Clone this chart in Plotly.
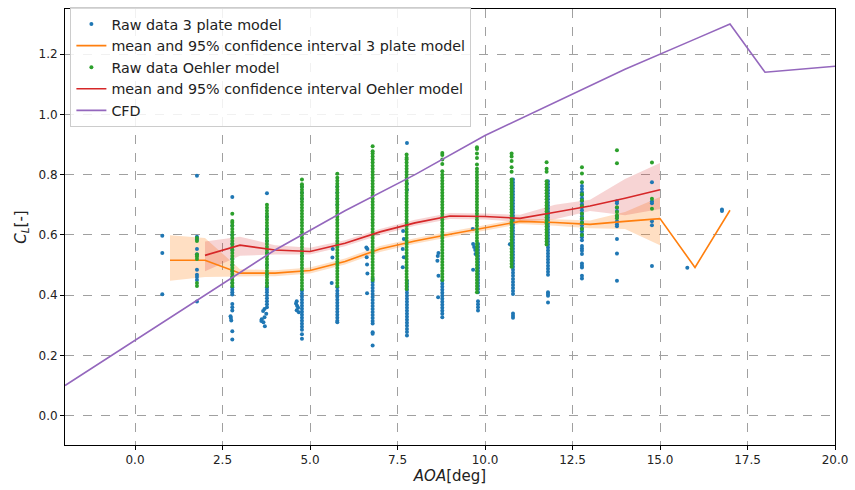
import plotly.graph_objects as go

# ---------------- raw data: 3 plate model (one list of CL values per AOA column) ----------------
plate3_aoa = [0.78, 1.77, 2.78, 3.77, 4.77, 5.78, 6.79, 7.77, 8.78, 9.80, 10.80, 11.80,
              12.77, 13.77, 14.77, 15.78, 16.77]
plate3_cl = [
    [0.597, 0.540, 0.403],
    [0.796, 0.594, 0.585, 0.553, 0.536, 0.484, 0.468, 0.460, 0.450, 0.379],
    [0.726, 0.63, 0.60, 0.57, 0.55, 0.52, 0.50, 0.48, 0.46, 0.44, 0.426, 0.418, 0.41, 0.402,
     0.371, 0.36, 0.349, 0.28, 0.253],
    [0.738, 0.66, 0.62, 0.58, 0.54, 0.50, 0.47, 0.44, 0.426, 0.418, 0.41, 0.40, 0.39, 0.38,
     0.37, 0.36],
    [0.76, 0.74, 0.72, 0.53, 0.415, 0.405, 0.395, 0.385, 0.375, 0.365, 0.355, 0.345, 0.335,
     0.325, 0.315, 0.305, 0.295, 0.285, 0.27, 0.255],
    [0.76, 0.74, 0.72, 0.70, 0.426, 0.415, 0.405, 0.395, 0.385, 0.375, 0.365, 0.355, 0.345,
     0.335, 0.325, 0.315, 0.31],
    [0.454, 0.444, 0.434, 0.424, 0.414, 0.404, 0.394, 0.384, 0.374, 0.364, 0.354, 0.344,
     0.334, 0.324, 0.314, 0.306, 0.277, 0.272, 0.233],
    [0.905, 0.77, 0.75, 0.448, 0.438, 0.428, 0.418, 0.408, 0.398, 0.388, 0.378, 0.368, 0.358,
     0.348, 0.338, 0.328, 0.318, 0.308, 0.298, 0.288, 0.278, 0.266],
    [0.448, 0.438, 0.428, 0.418, 0.408, 0.398, 0.388, 0.378, 0.368, 0.358, 0.348, 0.338, 0.327],
    [0.57, 0.56, 0.55, 0.54, 0.53, 0.52, 0.51, 0.50, 0.49, 0.48, 0.47, 0.46, 0.45, 0.44, 0.43,
     0.42, 0.41, 0.38, 0.37, 0.36, 0.349],
    [0.784, 0.774, 0.764, 0.754, 0.744, 0.734, 0.724, 0.714, 0.704, 0.694, 0.684, 0.674, 0.664,
     0.654, 0.644, 0.634, 0.624, 0.614, 0.604, 0.594, 0.584, 0.574, 0.564, 0.554, 0.544, 0.534,
     0.524, 0.514, 0.504, 0.494, 0.484, 0.474, 0.464, 0.454, 0.444, 0.434, 0.424, 0.414, 0.404,
     0.339, 0.332, 0.325],
    [0.778, 0.768, 0.758, 0.748, 0.738, 0.728, 0.718, 0.708, 0.698, 0.688, 0.678, 0.668, 0.658,
     0.648, 0.638, 0.628, 0.618, 0.608, 0.598, 0.588, 0.578, 0.568, 0.558, 0.548, 0.538, 0.528,
     0.518, 0.508, 0.498, 0.488, 0.478, 0.468, 0.41, 0.404, 0.398, 0.376],
    [0.762, 0.752, 0.742, 0.732, 0.722, 0.712, 0.702, 0.692, 0.682, 0.672, 0.662, 0.652, 0.642,
     0.632, 0.622, 0.612, 0.602, 0.592, 0.582, 0.563, 0.555, 0.547, 0.537, 0.505, 0.498, 0.492,
     0.464, 0.455],
    [0.712, 0.705, 0.69, 0.679, 0.66, 0.645, 0.635, 0.629, 0.586, 0.538, 0.448],
    [0.775, 0.712, 0.705, 0.645, 0.632, 0.497],
    [0.491],
    [0.679, 0.684],
]
# scattered 3 plate points lying just beside their columns
plate3_side_aoa = [2.73, 2.74, 2.75, 3.70, 3.66, 3.75, 3.70, 3.62, 3.61, 3.67, 3.71,
                   4.62, 4.60, 4.63, 4.66, 4.62, 4.68, 5.65, 5.64, 5.62,
                   6.61, 6.64, 6.62, 6.63, 6.64, 6.63, 7.66, 7.68, 7.65, 7.68, 7.65,
                   8.67, 8.65, 8.64, 8.67, 8.66, 9.65, 9.66, 9.69, 9.72, 9.73, 9.66, 10.71]
plate3_side_cl = [0.33, 0.324, 0.316, 0.354, 0.347, 0.338, 0.327, 0.32, 0.314, 0.31, 0.297,
                  0.38, 0.372, 0.365, 0.358, 0.35, 0.343, 0.553, 0.525, 0.44,
                  0.558, 0.553, 0.526, 0.502, 0.472, 0.406, 0.613, 0.586, 0.553, 0.526, 0.493,
                  0.54, 0.53, 0.514, 0.464, 0.393, 0.62, 0.57, 0.56, 0.55, 0.537, 0.484, 0.569]

# ---------------- raw data: Oehler model ----------------
oehler_aoa = [1.77, 2.78, 3.77, 4.77, 5.78, 6.79, 7.76, 8.78, 9.77, 10.76, 11.76, 12.77,
              13.77, 14.77]
oehler_cl = [
    [0.590, 0.580, 0.535, 0.528, 0.520, 0.440, 0.430],
    [0.67, 0.646, 0.64, 0.63, 0.62, 0.61, 0.60, 0.59, 0.58, 0.57, 0.56, 0.55, 0.54, 0.53, 0.52,
     0.51, 0.50, 0.49, 0.48, 0.47, 0.46, 0.45, 0.44, 0.43],
    [0.70, 0.69, 0.68, 0.67, 0.66, 0.65, 0.64, 0.63, 0.62, 0.61, 0.60, 0.59, 0.58, 0.57, 0.56,
     0.55, 0.54, 0.53, 0.52, 0.51, 0.50, 0.49, 0.48, 0.47, 0.46, 0.45, 0.44, 0.43],
    [0.784, 0.768, 0.76, 0.75, 0.74, 0.73, 0.72, 0.71, 0.70, 0.69, 0.68, 0.67, 0.66, 0.65, 0.64,
     0.63, 0.62, 0.61, 0.60, 0.59, 0.58, 0.57, 0.56, 0.55, 0.54, 0.53, 0.52, 0.51, 0.50, 0.49,
     0.48, 0.47, 0.46, 0.45, 0.44, 0.43, 0.42],
    [0.803, 0.79, 0.78, 0.77, 0.76, 0.75, 0.74, 0.73, 0.72, 0.71, 0.70, 0.69, 0.68, 0.67, 0.66,
     0.65, 0.64, 0.63, 0.62, 0.61, 0.60, 0.59, 0.58, 0.57, 0.56, 0.55, 0.54, 0.53, 0.52, 0.51,
     0.50, 0.49, 0.48, 0.47, 0.46, 0.45, 0.44, 0.43],
    [0.894, 0.878, 0.87, 0.86, 0.85, 0.84, 0.83, 0.82, 0.81, 0.80, 0.79, 0.78, 0.77, 0.76, 0.75,
     0.74, 0.73, 0.72, 0.71, 0.70, 0.69, 0.68, 0.67, 0.66, 0.65, 0.64, 0.63, 0.62, 0.61, 0.60,
     0.59, 0.58, 0.57, 0.56, 0.55, 0.54, 0.53, 0.52, 0.51, 0.50, 0.49, 0.48, 0.47, 0.46, 0.45],
    [0.867, 0.856, 0.85, 0.84, 0.83, 0.82, 0.81, 0.80, 0.79, 0.78, 0.77, 0.76, 0.75, 0.74, 0.73,
     0.72, 0.71, 0.70, 0.69, 0.68, 0.67, 0.66, 0.65, 0.64, 0.63, 0.62, 0.61, 0.60, 0.59, 0.58,
     0.57, 0.56, 0.55, 0.54, 0.53, 0.52, 0.51, 0.50, 0.49, 0.48, 0.47, 0.46, 0.45, 0.44, 0.43,
     0.42],
    [0.872, 0.865, 0.85, 0.835, 0.811, 0.80, 0.79, 0.78, 0.77, 0.76, 0.75, 0.74, 0.73, 0.72,
     0.71, 0.70, 0.69, 0.68, 0.67, 0.66, 0.65, 0.64, 0.63, 0.62, 0.61, 0.60, 0.59, 0.58, 0.57,
     0.56, 0.55, 0.54, 0.53, 0.52, 0.51, 0.50, 0.49, 0.48, 0.47, 0.46, 0.45],
    [0.891, 0.885, 0.87, 0.855, 0.834, 0.82, 0.81, 0.80, 0.79, 0.78, 0.77, 0.76, 0.75, 0.74,
     0.73, 0.72, 0.71, 0.70, 0.69, 0.68, 0.67, 0.66, 0.65, 0.64, 0.63, 0.62, 0.61, 0.60, 0.59,
     0.58, 0.57, 0.56, 0.55, 0.54, 0.53, 0.52, 0.51, 0.50, 0.49, 0.48, 0.47, 0.46, 0.45, 0.44,
     0.43, 0.42, 0.41],
    [0.87, 0.86, 0.845, 0.825, 0.81, 0.784, 0.774, 0.764, 0.754, 0.744, 0.734, 0.724, 0.714,
     0.704, 0.694, 0.684, 0.674, 0.664, 0.654, 0.644, 0.634, 0.624, 0.614, 0.604, 0.594, 0.584,
     0.574, 0.564, 0.554, 0.544, 0.534, 0.524, 0.514, 0.504, 0.494],
    [0.841, 0.82, 0.81, 0.778, 0.768, 0.758, 0.748, 0.738, 0.728, 0.718, 0.708, 0.698, 0.688,
     0.678, 0.668, 0.658, 0.648, 0.638, 0.628, 0.618, 0.608, 0.598, 0.588, 0.578, 0.568],
    [0.825, 0.804, 0.775, 0.735, 0.715, 0.695, 0.67, 0.655, 0.64, 0.62, 0.60],
    [0.881, 0.838, 0.692, 0.676, 0.665, 0.655],
    [0.840, 0.72, 0.687],
]

# ---------------- means with 95% confidence intervals ----------------
plate3_mean_aoa = [1, 2, 3, 4, 5, 6, 7, 8, 9, 10, 11, 12, 13, 14, 15, 16, 17]
plate3_mean = [0.516, 0.516, 0.473, 0.473, 0.482, 0.512, 0.553, 0.580, 0.602, 0.624, 0.645,
               0.641, 0.635, 0.645, 0.654, 0.492, 0.682]
plate3_ci_aoa = [1, 2, 3, 4, 5, 6, 7, 8, 9, 10, 11, 12, 13, 14, 15]
plate3_ci_low = [0.448, 0.460, 0.462, 0.463, 0.472, 0.502, 0.543, 0.571, 0.593, 0.615, 0.636,
                 0.630, 0.622, 0.620, 0.566]
plate3_ci_high = [0.599, 0.590, 0.486, 0.483, 0.492, 0.522, 0.563, 0.589, 0.611, 0.633, 0.654,
                  0.652, 0.648, 0.676, 0.726]

oehler_mean_aoa = [2, 3, 4, 5, 6, 7, 8, 9, 10, 11, 12, 13, 14, 15]
oehler_mean = [0.532, 0.566, 0.550, 0.545, 0.572, 0.610, 0.640, 0.663, 0.661, 0.655, 0.675,
               0.696, 0.722, 0.750]
oehler_ci_low = [0.479, 0.531, 0.535, 0.535, 0.562, 0.600, 0.630, 0.653, 0.651, 0.643, 0.652,
                 0.679, 0.665, 0.686]
oehler_ci_high = [0.578, 0.594, 0.566, 0.557, 0.582, 0.620, 0.650, 0.673, 0.671, 0.667, 0.700,
                  0.717, 0.786, 0.839]

# ---------------- CFD ----------------
cfd_aoa = [-2, 0, 2, 4, 6, 8, 10, 12, 14, 16, 17, 18, 20]
cfd_cl = [0.10, 0.25, 0.40, 0.55, 0.68, 0.80, 0.93, 1.04, 1.15, 1.25, 1.30, 1.14, 1.16]

# tick labels
x_ticks = [0.0, 2.5, 5.0, 7.5, 10.0, 12.5, 15.0, 17.5, 20.0]
y_ticks = [0.0, 0.2, 0.4, 0.6, 0.8, 1.0, 1.2]

BLUE, ORANGE, GREEN, RED, PURPLE = "#1f77b4", "#ff7f0e", "#2ca02c", "#d62728", "#9467bd"
FONT = "DejaVu Sans"


def flatten(cols_x, cols_y):
    xs, ys = [], []
    for x, col in zip(cols_x, cols_y):
        xs.extend([x] * len(col))
        ys.extend(col)
    return xs, ys


p3_x, p3_y = flatten(plate3_aoa, plate3_cl)
p3_x += plate3_side_aoa
p3_y += plate3_side_cl
oe_x, oe_y = flatten(oehler_aoa, oehler_cl)

fig = go.Figure()

# confidence bands (drawn underneath everything)
fig.add_trace(go.Scatter(x=plate3_ci_aoa, y=plate3_ci_low, mode="lines",
                         line=dict(width=0, color=ORANGE), showlegend=False, hoverinfo="skip"))
fig.add_trace(go.Scatter(x=plate3_ci_aoa, y=plate3_ci_high, mode="lines", fill="tonexty",
                         fillcolor="rgba(255,127,14,0.25)", line=dict(width=0, color=ORANGE),
                         showlegend=False, hoverinfo="skip"))
fig.add_trace(go.Scatter(x=oehler_mean_aoa, y=oehler_ci_low, mode="lines",
                         line=dict(width=0, color=RED), showlegend=False, hoverinfo="skip"))
fig.add_trace(go.Scatter(x=oehler_mean_aoa, y=oehler_ci_high, mode="lines", fill="tonexty",
                         fillcolor="rgba(214,39,40,0.2)", line=dict(width=0, color=RED),
                         showlegend=False, hoverinfo="skip"))

fig.add_trace(go.Scatter(x=p3_x, y=p3_y, mode="markers", name="Raw data 3 plate model",
                         marker=dict(color=BLUE, size=4, line=dict(width=0))))
fig.add_trace(go.Scatter(x=plate3_mean_aoa, y=plate3_mean, mode="lines",
                         name="mean and 95% confidence interval 3 plate model",
                         line=dict(color=ORANGE, width=1.6)))
fig.add_trace(go.Scatter(x=oe_x, y=oe_y, mode="markers", name="Raw data Oehler model",
                         marker=dict(color=GREEN, size=4, line=dict(width=0))))
fig.add_trace(go.Scatter(x=oehler_mean_aoa, y=oehler_mean, mode="lines",
                         name="mean and 95% confidence interval Oehler model",
                         line=dict(color=RED, width=1.6)))
fig.add_trace(go.Scatter(x=cfd_aoa, y=cfd_cl, mode="lines", name="CFD",
                         line=dict(color=PURPLE, width=1.6)))

axis_common = dict(
    showline=True, mirror=True, linecolor="#000000", linewidth=1,
    ticks="outside", ticklen=4, tickcolor="#000000", tickwidth=1,
    showgrid=True, gridcolor="#a0a0a0", gridwidth=1, griddash="dash",
    zeroline=False, tickfont=dict(family=FONT, size=12, color="#222222"),
)

fig.update_xaxes(range=[-2, 20], tickvals=x_ticks, tickformat=".1f",
                 title=dict(text="<i>AOA</i>[deg]", font=dict(family=FONT, size=15, color="#222222"),
                            standoff=4),
                 **axis_common)
fig.update_yaxes(range=[-0.0975, 1.35], tickvals=y_ticks, tickformat=".1f",
                 title=dict(text="<i>C</i><sub><i>L</i></sub>[-]",
                            font=dict(family=FONT, size=15, color="#222222"), standoff=8),
                 **axis_common)

fig.update_layout(
    width=855, height=490,
    margin=dict(l=65, r=16, t=7, b=45),
    plot_bgcolor="white", paper_bgcolor="white",
    font=dict(family=FONT, size=13, color="#222222"),
    legend=dict(x=0.007, y=1.004, xanchor="left", yanchor="top", traceorder="normal",
                bgcolor="rgba(255,255,255,0.85)", bordercolor="#cccccc", borderwidth=1,
                font=dict(family=FONT, size=14.3, color="#222222"),
                itemwidth=30, tracegroupgap=0),
    showlegend=True,
)

fig.write_html("out.html")
